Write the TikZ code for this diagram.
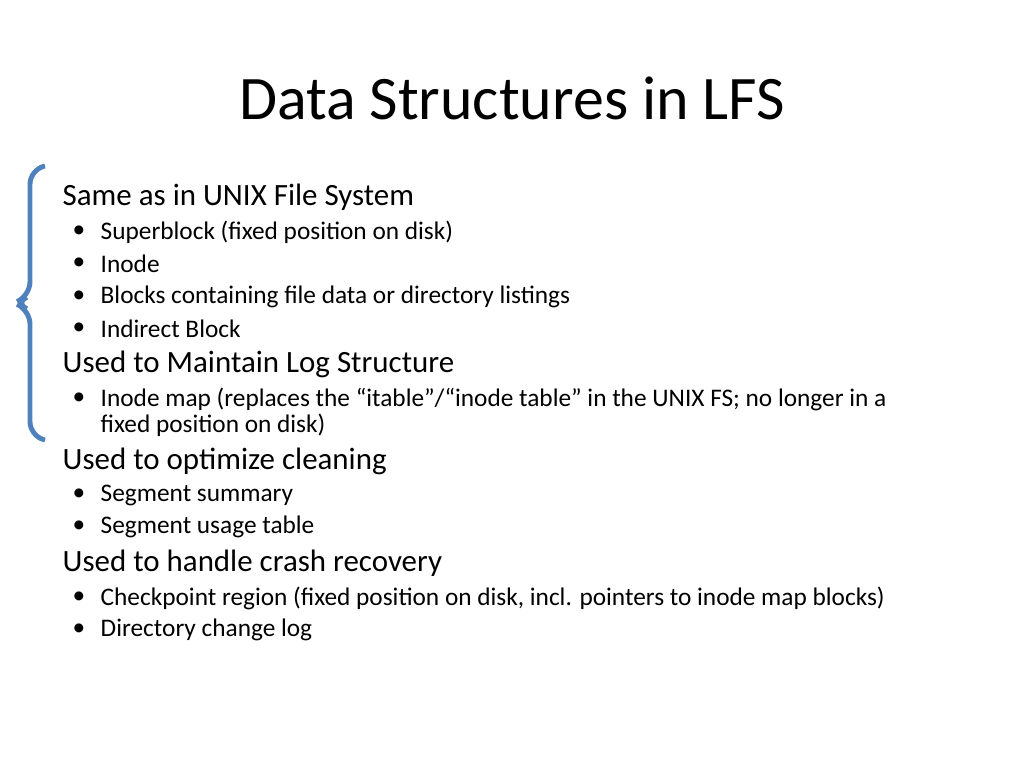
\documentclass[tikz,border=0pt]{standalone}
\usepackage{fontspec}
\setmainfont{Carlito}
\usetikzlibrary{positioning}
\definecolor{bracketblue}{RGB}{79,129,189}
\begin{document}
\begin{tikzpicture}[x=0.01cm,y=-0.01cm,
    heading/.style={anchor=west, inner sep=0pt, font=\fontsize{8.8pt}{10pt}\selectfont},
    item/.style={anchor=west, inner sep=0pt, font=\fontsize{7.2pt}{8.2pt}\selectfont, align=left},
    dot/.style={anchor=west, inner sep=0pt, font=\fontsize{7.2pt}{8.2pt}\selectfont}
]
    \useasboundingbox (0,0) rectangle (1024,768);
    \node[font=\fontsize{17.6pt}{20pt}\selectfont, inner sep=0pt] (title) at (512,98) {Data Structures in LFS};

    % left bracket
    \draw[bracketblue, line width=1.4pt, rounded corners=4pt]
        (45,166) -- (30,170) -- (30,296) -- (14,303) -- (30,310) -- (30,436) -- (45,440);

    \node[heading] (same) at (62,197) {Same as in UNIX File System};
    \node[heading] (log) at (62,364) {Used to Maintain Log Structure};
    \node[heading] (clean) at (62,461) {Used to optimize cleaning};
    \node[heading] (crash) at (62,563) {Used to handle crash recovery};

    \foreach \y/\txt in {232/Superblock (fixed position on disk), 264/Inode,
        297/Blocks containing file data or directory listings, 329/Indirect Block,
        399/{Inode map (replaces the “itable”/“inode table” in the UNIX FS; no longer in a},
        495/Segment summary, 527/Segment usage table,
        598/{Checkpoint region (fixed position on disk, incl. pointers to inode map blocks)},
        630/Directory change log} {
        \node[dot] at (72,\y) {•};
        \node[item] at (100,\y) {\txt};
    }
    \node[item] (fixed) at (100,425) {fixed position on disk)};
\end{tikzpicture}
\end{document}
